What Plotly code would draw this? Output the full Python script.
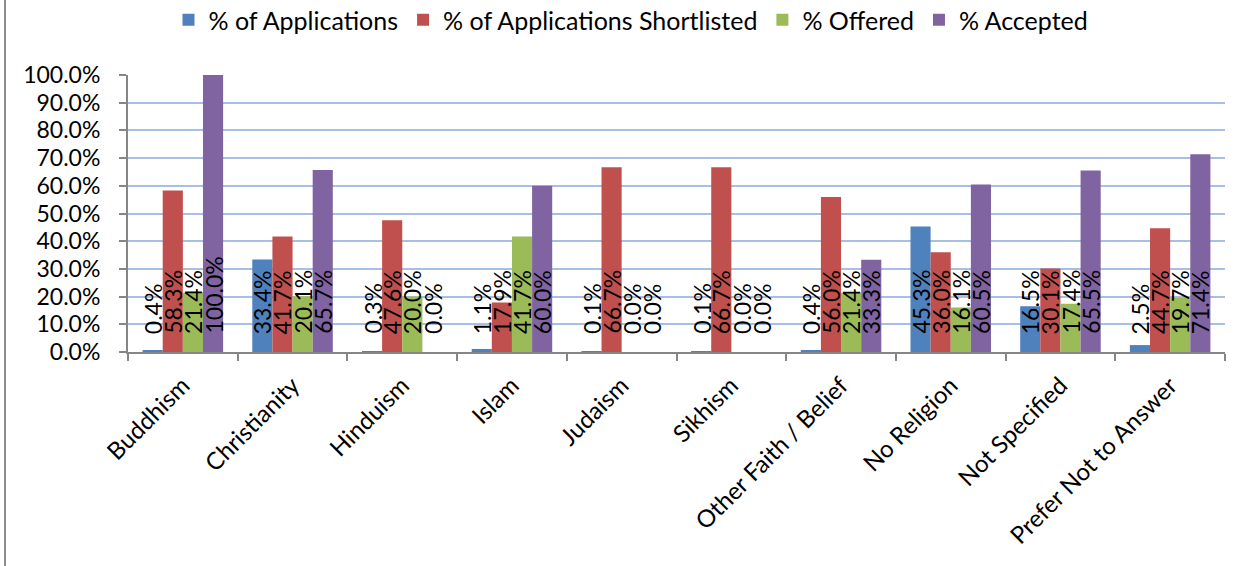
import plotly.graph_objects as go

categories = ["Buddhism", "Christianity", "Hinduism", "Islam", "Judaism", "Sikhism",
              "Other Faith / Belief", "No Religion", "Not Specified", "Prefer Not to Answer"]
series_names = ["% of Applications", "% of Applications Shortlisted", "% Offered", "% Accepted"]
pct_applications = [0.004, 0.334, 0.003, 0.011, 0.001, 0.001, 0.004, 0.453, 0.165, 0.025]
pct_shortlisted = [0.583, 0.417, 0.476, 0.179, 0.667, 0.667, 0.560, 0.360, 0.301, 0.447]
pct_offered = [0.214, 0.201, 0.200, 0.417, 0.000, 0.000, 0.214, 0.161, 0.174, 0.197]
pct_accepted = [1.000, 0.657, 0.000, 0.600, 0.000, 0.000, 0.333, 0.605, 0.655, 0.714]
colors = ["#4F81BD", "#C0504D", "#9BBB59", "#8064A2"]

all_series = [pct_applications, pct_shortlisted, pct_offered, pct_accepted]

W, H = 1237, 566
L, R, T, B = 128, 12, 75, 214
plot_w = W - L - R
plot_h = H - T - B
FONT = "Lato"

fig = go.Figure()
for name, vals, col in zip(series_names, all_series, colors):
    fig.add_trace(go.Bar(x=categories, y=vals, name=name, marker_color=col,
                         marker_line_width=0))

# data labels (rotated, at base of each bar)
bar_px = plot_w / len(categories) * (1 - 0.266) / 4
annotations = []
for j, vals in enumerate(all_series):
    for cat, v in zip(categories, vals):
        annotations.append(dict(
            x=cat, y=0, xref="x", yref="y",
            text=f"{v*100:.1f}%", showarrow=False, textangle=-90,
            xanchor="center", yanchor="bottom",
            xshift=(j - 1.5) * bar_px, yshift=17,
            font=dict(family=FONT, size=23, color="black"),
            borderpad=0,
        ))

fig.update_layout(
    width=W, height=H,
    margin=dict(l=L, r=R, t=T, b=B, autoexpand=False),
    paper_bgcolor="white", plot_bgcolor="white",
    barmode="group", bargap=0.266, bargroupgap=0,
    font=dict(family=FONT, size=23, color="black"),
    legend=dict(orientation="h", x=(631 - L) / plot_w, xanchor="center",
                y=(H - B - 20) / plot_h, yanchor="middle",
                font=dict(family=FONT, size=25), traceorder="normal"),
    annotations=annotations,
    shapes=[dict(type="line", xref="paper", yref="paper",
                 x0=(5 - L) / plot_w, x1=(5 - L) / plot_w,
                 y0=(H - B) / plot_h, y1=(H - B - H) / plot_h,
                 line=dict(color="#8C8C8C", width=2))],
)
fig.update_yaxes(range=[0, 1], dtick=0.1, tickformat=".1%", automargin=False,
                 showgrid=True, gridcolor="#A7BEE6", gridwidth=2,
                 showline=True, linecolor="#868686", linewidth=2,
                 ticks="outside", ticklen=7, tickcolor="#868686", tickwidth=2,
                 ticklabelstandoff=14,
                 zeroline=False, tickfont=dict(family=FONT, size=23))
fig.update_xaxes(tickangle=-45, tickson="boundaries", automargin=False,
                 showline=True, linecolor="#868686", linewidth=2,
                 ticks="outside", ticklen=7, tickcolor="#868686", tickwidth=2,
                 ticklabelstandoff=8,
                 tickfont=dict(family=FONT, size=24))

fig.write_html("out.html", config={"displayModeBar": False},
               post_script="document.body.style.margin='0';")
